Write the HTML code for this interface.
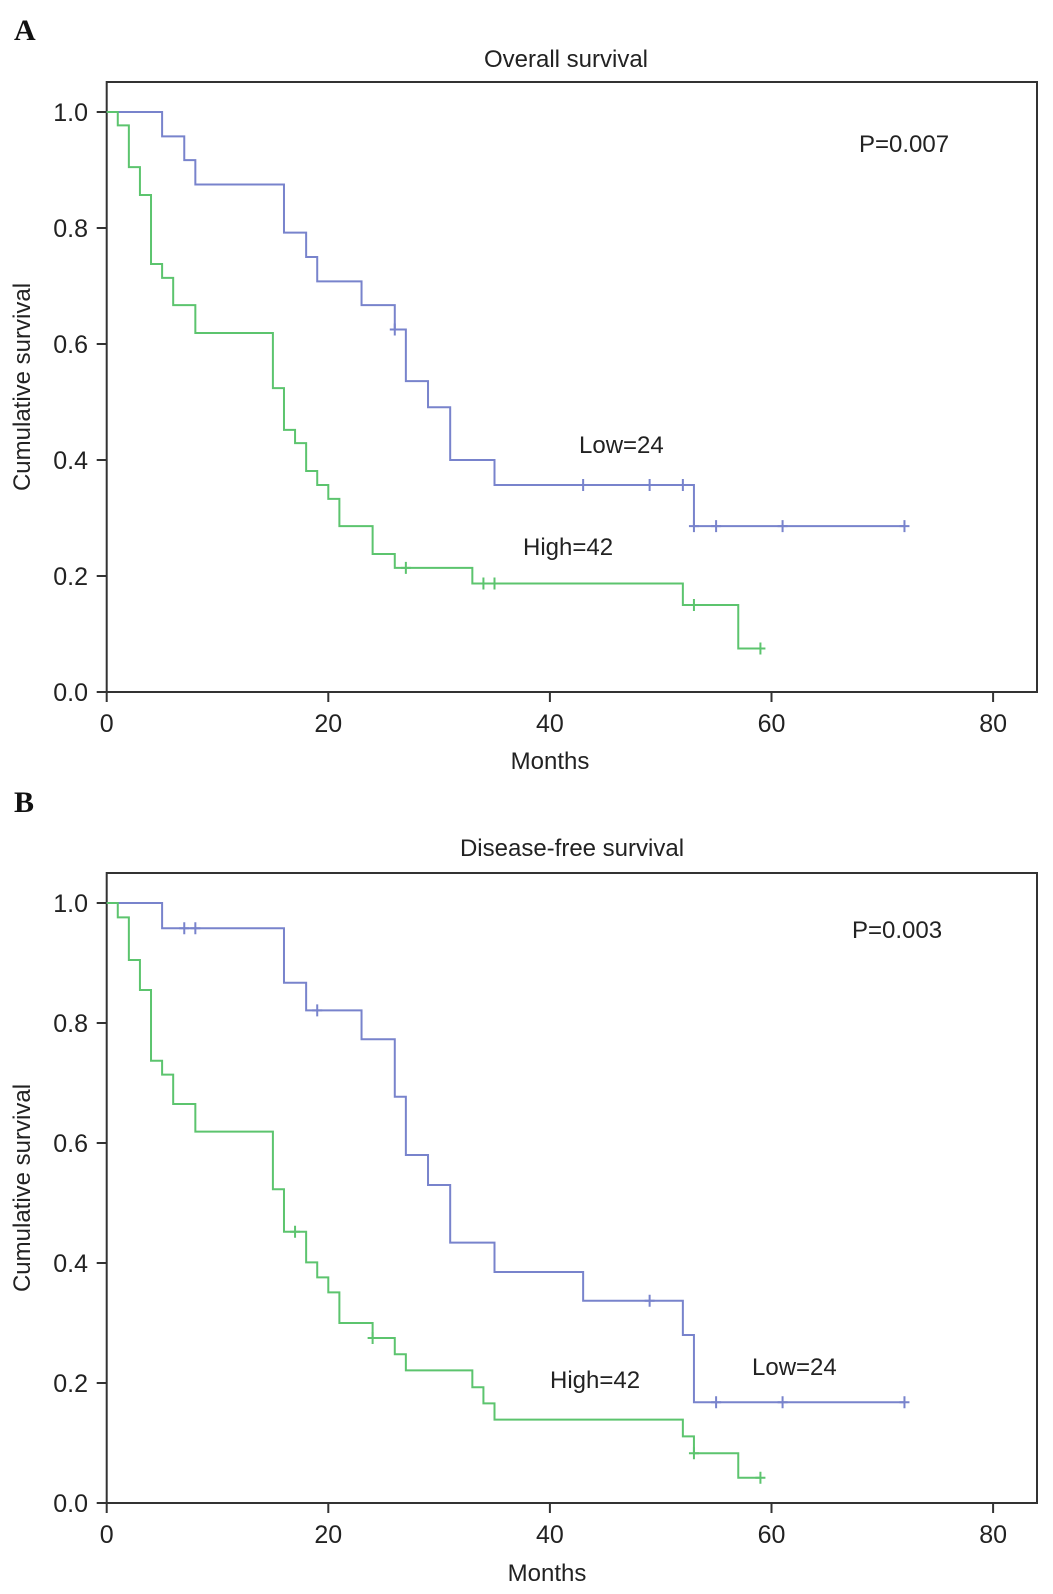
<!DOCTYPE html>
<html><head><meta charset="utf-8"><style>
html,body{margin:0;padding:0;background:#fff;}
svg{display:block;font-family:"Liberation Sans",Arial,sans-serif;}
</style></head><body>
<svg id="fig" width="1053" height="1594" viewBox="0 0 1053 1594"></svg>
<script>
// Panel A: overall survival
const aLowTimes=[0,5,7,8,16,18,19,23,26,27,29,31,35,53];
const aLowVals=[1,0.958,0.917,0.875,0.792,0.75,0.708,0.667,0.625,0.536,0.491,0.40,0.357,0.286];
const aLowCensor=[26,43,49,52,53,55,61,72];
const aLowEnd=72;
const aHighTimes=[0,1,2,3,4,5,6,8,15,16,17,18,19,20,21,24,26,33,52,57];
const aHighVals=[1,0.977,0.905,0.857,0.738,0.714,0.667,0.619,0.524,0.452,0.429,0.381,0.357,0.333,0.286,0.238,0.214,0.187,0.15,0.075];
const aHighCensor=[27,34,35,53,59];
const aHighEnd=59;
// Panel B: disease-free survival
const bLowTimes=[0,5,16,18,23,26,27,29,31,35,43,52,53];
const bLowVals=[1,0.958,0.867,0.821,0.773,0.677,0.58,0.53,0.434,0.385,0.337,0.28,0.168];
const bLowCensor=[7,8,19,49,55,61,72];
const bLowEnd=72;
const bHighTimes=[0,1,2,3,4,5,6,8,15,16,18,19,20,21,24,26,27,33,34,35,52,53,57];
const bHighVals=[1,0.976,0.905,0.855,0.737,0.714,0.665,0.619,0.523,0.452,0.401,0.376,0.351,0.30,0.275,0.248,0.221,0.193,0.166,0.139,0.111,0.083,0.042];
const bHighCensor=[17,24,53,59];
const bHighEnd=59;
const xTicks=[0,20,40,60,80];
const yTicks=[0,0.2,0.4,0.6,0.8,1.0];

const NS='http://www.w3.org/2000/svg';
const svg=document.getElementById('fig');
function mk(tag,attrs,parent){const e=document.createElementNS(NS,tag);for(const k in attrs)e.setAttribute(k,attrs[k]);(parent||svg).appendChild(e);return e;}
function txt(s,x,y,size,anchor,parent,extra){const t=mk('text',Object.assign({x:x,y:y,'font-size':size,'text-anchor':anchor||'middle',fill:'#222'},extra||{}),parent);t.textContent=s;return t;}

function survAt(times,vals,t){let v=vals[0];for(let i=0;i<times.length;i++){if(times[i]<=t)v=vals[i];}return v;}

function panel(cfg){
  const g=mk('g',{});
  
  
  const X=m=>cfg.x0+m*cfg.xs;
  const Y=v=>cfg.y0-v*cfg.ys;
  const L=txt(cfg.letter,14,cfg.letterY,30,'start',g,{'font-family':'"Liberation Serif",serif','font-weight':'bold',fill:'#111'});
  
  
  const T=txt(cfg.title,cfg.titleX,cfg.titleY,24,'middle',g);
  
  
  const f=mk('rect',{x:cfg.x0,y:cfg.top,width:1037-cfg.x0,height:cfg.y0-cfg.top,fill:'none',stroke:'#333','stroke-width':2},g);
  
  
  yTicks.forEach(v=>{
    const tk=mk('line',{x1:cfg.x0-10,x2:cfg.x0,y1:Y(v),y2:Y(v),stroke:'#333','stroke-width':2},g);
    
    
    const lb=txt(v.toFixed(1),88,Y(v)+9,25,'end',g);
    
    
  });
  xTicks.forEach(m=>{
    const tk=mk('line',{x1:X(m),x2:X(m),y1:cfg.y0,y2:cfg.y0+10,stroke:'#333','stroke-width':2},g);
    
    
    const lb=txt(String(m),X(m),cfg.y0+40,25,'middle',g);
    
    
  });
  const xt=txt('Months',cfg.monthsX,cfg.monthsY,24,'middle',g);
  
  
  const yc=(cfg.top+cfg.y0)/2;
  const yt=txt('Cumulative survival',30,yc,24,'middle',g,{transform:'rotate(-90 30 '+yc+')'});
  
  
  cfg.series.forEach(s=>{
    let d='M'+X(s.times[0])+' '+Y(s.vals[0]);
    for(let i=1;i<s.times.length;i++){d+=' H'+X(s.times[i])+' V'+Y(s.vals[i]);}
    d+=' H'+X(s.end);
    const p=mk('path',{d:d,fill:'none',stroke:s.color,'stroke-width':2},g);
    
    
    s.censor.forEach(t=>{
      const v=survAt(s.times,s.vals,t);
      const c=mk('path',{d:'M'+X(t)+' '+(Y(v)-6)+' V'+(Y(v)+6)+' M'+(X(t)-5)+' '+Y(v)+' H'+(X(t)+5),stroke:s.color,'stroke-width':2,fill:'none'},g);
      
      
    });
  });
  cfg.labels.forEach(l=>{
    const e=txt(l.text,l.x,l.y,24,'start',g);
    
    
  });
}

panel({name:'panel-a-overall-survival',letter:'A',letterY:40,title:'Overall survival',titleX:566,titleY:67,
  x0:106.7,xs:11.08,y0:692,ys:580,top:82,monthsX:550,monthsY:769,
  series:[
    {name:'low',times:aLowTimes,vals:aLowVals,censor:aLowCensor,end:aLowEnd,color:'#7883cc'},
    {name:'high',times:aHighTimes,vals:aHighVals,censor:aHighCensor,end:aHighEnd,color:'#5cc46e'}],
  labels:[{text:'P=0.007',x:859,y:152,name:'p-value-label'},{text:'Low=24',x:579,y:453,name:'low-group-label'},{text:'High=42',x:523,y:555,name:'high-group-label'}]});

panel({name:'panel-b-disease-free-survival',letter:'B',letterY:812,title:'Disease-free survival',titleX:572,titleY:856,
  x0:106.7,xs:11.08,y0:1503,ys:600,top:873,monthsX:547,monthsY:1581,
  series:[
    {name:'low',times:bLowTimes,vals:bLowVals,censor:bLowCensor,end:bLowEnd,color:'#7883cc'},
    {name:'high',times:bHighTimes,vals:bHighVals,censor:bHighCensor,end:bHighEnd,color:'#5cc46e'}],
  labels:[{text:'P=0.003',x:852,y:938,name:'p-value-label'},{text:'Low=24',x:752,y:1375,name:'low-group-label'},{text:'High=42',x:550,y:1388,name:'high-group-label'}]});
</script>
</body></html>
